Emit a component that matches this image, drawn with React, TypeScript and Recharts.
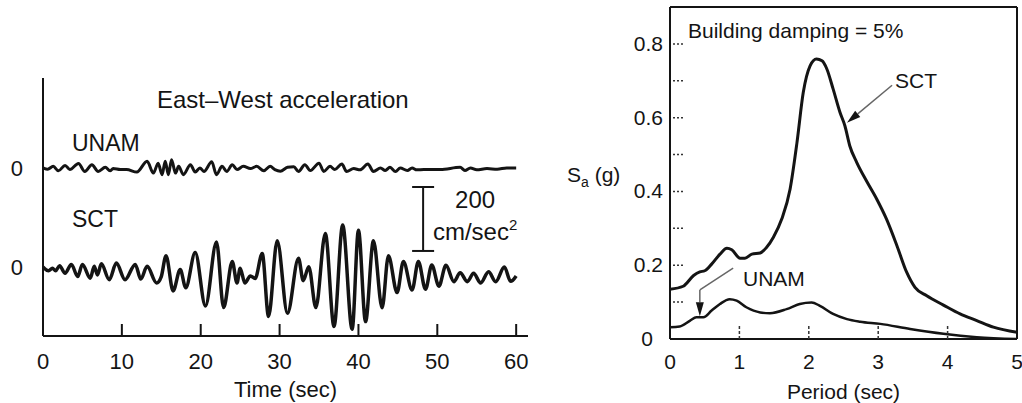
import React from 'react';
import { LineChart, Line, XAxis, YAxis, ReferenceLine, Label } from 'recharts';

const FONT = '"Liberation Sans", Arial, Helvetica, sans-serif';
const INK = '#141414';

// East-West acceleration, peaks and troughs (sec, cm/sec^2)
const unamTime = [0, 0.6, 1.3, 1.95, 2.8, 3.4, 4.5, 5.3, 6.2, 7.0, 7.9, 8.5, 8.9, 9.8, 10.6, 11.9, 13.2, 14.0, 14.6, 15.1, 15.5, 15.9, 16.3, 16.8, 17.2, 17.8, 18.7, 19.3, 19.9, 20.4, 21.4, 22.0, 22.7, 23.3, 24.0, 24.6, 25.4, 26.3, 27.1, 28.0, 28.8, 29.4, 30.1, 31.0, 31.8, 32.4, 33.2, 33.9, 35.0, 35.6, 36.4, 37.0, 37.9, 38.5, 39.4, 40.2, 41.2, 41.9, 42.8, 43.4, 44.0, 44.7, 45.3, 46.2, 46.8, 47.4, 48.3, 50.4, 52.9, 53.5, 54.2, 55.0, 56.3, 57.6, 58.8, 60.0];
const unamAccel = [0, -4, 5, -9, 8, -5, 14, -11, 10, -11, 2, -9, -2, -5, -5, -13, 21, -16, 15, -21, 21, -21, 26, -16, 5, -21, 10, -13, 0, -11, 19, -21, 5, -11, 10, -5, 5, -2, 5, -9, 5, -5, -10, 2, 4, -11, 10, -8, 15, -11, 5, -5, 12, -11, -2, -6, 12, -11, 0, -8, 2, -11, 0, -8, 0, -6, -5, -5, 2, -8, 0, -6, -2, -4, 0, 0];

const sctTime = [0, 0.7, 1.2, 1.6, 2.1, 2.8, 3.6, 4.4, 5.0, 6.0, 6.5, 6.9, 7.4, 8.4, 9.3, 10.4, 11.7, 12.4, 13.2, 14.4, 15.0, 15.6, 16.5, 17.4, 18.1, 19.3, 20.6, 22.0, 22.9, 24.0, 24.6, 25.0, 25.6, 26.3, 26.9, 27.8, 28.6, 29.7, 31.0, 32.4, 33.0, 33.7, 34.6, 35.8, 36.9, 38.0, 39.2, 40.0, 40.9, 41.9, 43.0, 43.8, 44.9, 45.7, 46.8, 47.6, 48.5, 49.3, 50.2, 51.1, 52.1, 52.9, 53.8, 54.6, 55.5, 56.5, 57.4, 58.5, 59.3, 60.0];
const sctAccel = [0, -12, -4, -12, 4, -20, 8, -30, 8, -35, 2, -25, 10, -40, 12, -40, 8, -38, 2, -50, -30, 35, -75, -8, -65, 45, -122, 78, -127, 17, -50, -4, -50, -28, -36, 42, -155, 82, -145, 27, -43, 1, -127, 105, -186, 131, -195, 115, -171, 82, -128, 35, -80, 17, -72, 17, -70, 6, -60, 5, -46, -18, -46, -20, -50, -15, -46, 0, -45, -28];

const timeTicks = [0, 10, 20, 30, 40, 50, 60];

// response spectra, building damping 5% (period sec, Sa in g)
const sctPeriod = [0, 0.19, 0.34, 0.43, 0.5, 0.6, 0.72, 0.82, 0.89, 1.01, 1.08, 1.18, 1.3, 1.39, 1.49, 1.61, 1.73, 1.83, 1.92, 2.02, 2.11, 2.19, 2.26, 2.35, 2.45, 2.52, 2.59, 2.69, 2.83, 2.98, 3.12, 3.27, 3.41, 3.53, 3.7, 3.94, 4.18, 4.42, 4.66, 5.0];
const sctSa = [0.135, 0.143, 0.172, 0.182, 0.185, 0.203, 0.23, 0.246, 0.242, 0.219, 0.219, 0.23, 0.233, 0.248, 0.276, 0.325, 0.406, 0.533, 0.668, 0.741, 0.759, 0.754, 0.732, 0.678, 0.614, 0.578, 0.524, 0.479, 0.429, 0.379, 0.325, 0.253, 0.181, 0.14, 0.117, 0.092, 0.068, 0.05, 0.032, 0.018];

const unamPeriod = [0, 0.14, 0.29, 0.38, 0.48, 0.6, 0.72, 0.86, 0.96, 1.1, 1.3, 1.44, 1.68, 1.87, 2.04, 2.16, 2.35, 2.55, 2.74, 3.03, 3.46, 3.94, 4.42, 5.0];
const unamSa = [0.032, 0.034, 0.05, 0.059, 0.059, 0.077, 0.095, 0.108, 0.104, 0.086, 0.072, 0.07, 0.081, 0.095, 0.099, 0.09, 0.068, 0.054, 0.047, 0.041, 0.027, 0.014, 0.005, 0];

const periodTicks = [0, 1, 2, 3, 4, 5];
const saTicks = [0, 0.1, 0.2, 0.3, 0.4, 0.5, 0.6, 0.7, 0.8];

const unamRecord = unamTime.map((t, i) => ({ t, a: unamAccel[i] }));
const sctRecord = sctTime.map((t, i) => ({ t, a: sctAccel[i] }));
const sctSpectrum = sctPeriod.map((T, i) => ({ T, sa: sctSa[i] }));
const unamSpectrum = unamPeriod.map((T, i) => ({ T, sa: unamSa[i] }));

const TimeTick = ({ x, y, payload }: any) => (
    <g>
        {payload.value > 0 && <line x1={x} x2={x} y1={y} y2={y - 12} stroke={INK} strokeWidth={2} />}
        <text x={x} y={y + 33} textAnchor="middle" fontSize={22} fontFamily={FONT} fill={INK}>{payload.value}</text>
    </g>
);

const PeriodTick = ({ x, y, payload }: any) => (
    <g>
        {payload.value > 0 && payload.value < 5 && (
            <line x1={x} x2={x} y1={y} y2={y - 14} stroke="#333" strokeWidth={1.5} strokeDasharray="3 2" />
        )}
        <text x={x} y={y + 30} textAnchor="middle" fontSize={21} fontFamily={FONT} fill={INK}>{payload.value}</text>
    </g>
);

const SaTick = ({ x, y, payload }: any) => {
    const v = payload.value;
    const labelled = Math.round(v * 10) % 2 === 0;
    return (
        <g>
            {v > 0 && <line x1={x + 3} x2={x + 15} y1={y} y2={y} stroke="#333" strokeWidth={1.5} strokeDasharray="2 2" />}
            {labelled && (
                <text x={v === 0 ? x - 23 : x - 7} y={y + 7} textAnchor={v === 0 ? 'middle' : 'end'} fontSize={21} fontFamily={FONT} fill={INK}>
                    {String(v)}
                </text>
            )}
        </g>
    );
};

const SaLabel = ({ viewBox }: any) => (
    <text x={viewBox.x + viewBox.width - 103} y={viewBox.y + viewBox.height / 2 + 9} fontSize={21} fontFamily={FONT} fill={INK}>
        S<tspan dy={5} fontSize={14}>a</tspan><tspan dy={-5}> (g)</tspan>
    </text>
);

// thin pointer with a solid head at the end of the segment
const arrowShape = (p: any) => {
    const { x1, y1, x2, y2 } = p;
    const ang = Math.atan2(y2 - y1, x2 - x1);
    const len = 14, half = 4;
    const bx = x2 - len * Math.cos(ang), by = y2 - len * Math.sin(ang);
    const pts = `${x2},${y2} ${bx - half * Math.sin(ang)},${by + half * Math.cos(ang)} ${bx + half * Math.sin(ang)},${by - half * Math.cos(ang)}`;
    return (
        <g>
            <line x1={x1} y1={y1} x2={bx} y2={by} stroke="#666" strokeWidth={1.5} />
            <polygon points={pts} fill={INK} />
        </g>
    );
};

const plainShape = (p: any) => <line x1={p.x1} y1={p.y1} x2={p.x2} y2={p.y2} stroke="#666" strokeWidth={1.5} />;

const scaleBarShape = (p: any) => {
    const x = p.x1;
    const top = Math.min(p.y1, p.y2), bot = Math.max(p.y1, p.y2);
    return (
        <g>
            <line x1={x} x2={x} y1={top} y2={bot} stroke={INK} strokeWidth={2} />
            <line x1={x - 11} x2={x + 11} y1={top} y2={top} stroke={INK} strokeWidth={2} />
            <line x1={x - 11} x2={x + 11} y1={bot} y2={bot} stroke={INK} strokeWidth={2} />
            <text x={x + 52} y={top + 21} textAnchor="middle" fontSize={24} fontFamily={FONT} fill={INK}>200</text>
            <text x={x + 52} y={top + 53} textAnchor="middle" fontSize={24} fontFamily={FONT} fill={INK}>
                cm/sec<tspan dy={-10} fontSize={15}>2</tspan>
            </text>
        </g>
    );
};

const Note = ({ left, cy, size, children }: any) => (
    <div style={{ position: 'absolute', left, top: cy - size / 2, fontSize: size, lineHeight: `${size}px`, fontFamily: FONT, color: INK, whiteSpace: 'nowrap' }}>
        {children}
    </div>
);

const axisStyle = { stroke: INK, strokeWidth: 2 };

const App: React.FC = () => (
    <div style={{ position: 'absolute', left: 0, top: 0, width: 1022, height: 403, background: '#fff', overflow: 'hidden' }}>
        <div style={{ position: 'absolute', left: 0, top: 0 }}>
            <LineChart width={560} height={403} margin={{ top: 78, right: 32, bottom: 0, left: 41 }}>
                <XAxis type="number" dataKey="t" domain={[0, 61.5]} ticks={timeTicks} interval={0} allowDataOverflow height={67}
                    axisLine={axisStyle} tickLine={false} tickSize={0} tickMargin={0} tick={(p: any) => <TimeTick {...p} />}>
                    <Label value="Time (sec)" position="insideBottom" offset={6} fontSize={22} fontFamily={FONT} fill={INK} />
                </XAxis>
                <YAxis yAxisId="unam" type="number" domain={[-525, 281]} allowDataOverflow width={2} ticks={[0]} tick={false} tickLine={false} axisLine={axisStyle} />
                <YAxis yAxisId="sct" type="number" domain={[-216, 591]} allowDataOverflow hide />
                <ReferenceLine yAxisId="unam" x={0} stroke={INK} strokeWidth={2} />
                <ReferenceLine yAxisId="unam" y={0} stroke="none" label={{ value: '0', position: 'left', offset: 20, fontSize: 22, fontFamily: FONT, fill: INK }} />
                <ReferenceLine yAxisId="sct" y={0} stroke="none" label={{ value: '0', position: 'left', offset: 20, fontSize: 22, fontFamily: FONT, fill: INK }} />
                <ReferenceLine yAxisId="sct" segment={[{ x: 48.2, y: 50 }, { x: 48.2, y: 250 }]} shape={scaleBarShape} ifOverflow="visible" />
                <Line yAxisId="unam" data={unamRecord} dataKey="a" type="monotone" dot={false} stroke={INK} strokeWidth={3} isAnimationActive={false} />
                <Line yAxisId="sct" data={sctRecord} dataKey="a" type="monotone" dot={false} stroke={INK} strokeWidth={3.5} isAnimationActive={false} />
            </LineChart>
        </div>
        <div style={{ position: 'absolute', left: 560, top: 0 }}>
            <LineChart width={462} height={403} margin={{ top: 7, right: 5, bottom: 0, left: 108 }}>
                <XAxis type="number" dataKey="T" domain={[0, 5]} ticks={periodTicks} interval={0} allowDataOverflow height={64}
                    axisLine={axisStyle} tickLine={false} tickSize={0} tickMargin={0} tick={(p: any) => <PeriodTick {...p} />}>
                    <Label value="Period (sec)" position="insideBottom" offset={4} fontSize={21} fontFamily={FONT} fill={INK} />
                </XAxis>
                <YAxis type="number" domain={[0, 0.9]} ticks={saTicks} interval={0} allowDataOverflow width={2}
                    axisLine={axisStyle} tickLine={false} tickSize={0} tickMargin={0} tick={(p: any) => <SaTick {...p} />}>
                    <Label content={SaLabel} />
                </YAxis>
                <ReferenceLine x={0} stroke={INK} strokeWidth={2} />
                <ReferenceLine y={0.9} stroke={INK} strokeWidth={2} />
                <ReferenceLine x={5} stroke={INK} strokeWidth={2} />
                <ReferenceLine segment={[{ x: 3.2, y: 0.688 }, { x: 2.55, y: 0.586 }]} shape={arrowShape} />
                <ReferenceLine segment={[{ x: 0.91, y: 0.192 }, { x: 0.43, y: 0.133 }]} shape={plainShape} />
                <ReferenceLine segment={[{ x: 0.43, y: 0.133 }, { x: 0.43, y: 0.062 }]} shape={arrowShape} />
                <Line data={sctSpectrum} dataKey="sa" type="monotone" dot={false} stroke={INK} strokeWidth={3} isAnimationActive={false} />
                <Line data={unamSpectrum} dataKey="sa" type="monotone" dot={false} stroke={INK} strokeWidth={2.5} isAnimationActive={false} />
            </LineChart>
        </div>
        <Note left={157} cy={100} size={24}>East–West acceleration</Note>
        <Note left={72} cy={143} size={23}>UNAM</Note>
        <Note left={72} cy={219} size={23}>SCT</Note>
        <Note left={688} cy={30} size={21}>Building damping = 5%</Note>
        <Note left={895} cy={80} size={21}>SCT</Note>
        <Note left={743} cy={278} size={21}>UNAM</Note>
    </div>
);

export default App;
